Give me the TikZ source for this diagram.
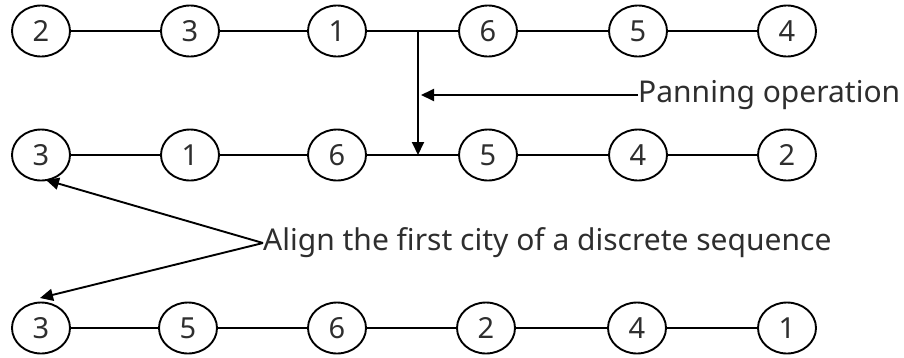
\documentclass[tikz,border=0pt]{standalone}
\usepackage{fontspec}
\setmainfont{Noto Sans}
\usetikzlibrary{shapes.geometric,arrows.meta}
\begin{document}
\begin{tikzpicture}[x=1pt,y=-1pt,
  city/.style={ellipse,draw,line width=1.9pt,minimum width=58pt,minimum height=51pt,inner sep=0pt,font=\fontsize{29}{29}\selectfont,text=black!82},
  link/.style={line width=1.9pt},
  arr/.style={line width=1.9pt,-{Triangle[length=13pt,width=12pt]}},
  lbl/.style={anchor=west,inner sep=0pt,font=\fontsize{30}{30}\selectfont,text=black!82}]
\useasboundingbox (0,0) rectangle (904,357);
% row 1
\node[city] (a1) at (41,31) {2};
\node[city] (a2) at (190,31) {3};
\node[city] (a3) at (337,31) {1};
\node[city] (a4) at (488,31) {6};
\node[city] (a5) at (638,31) {5};
\node[city] (a6) at (787,31) {4};
% row 2
\node[city] (b1) at (41,155) {3};
\node[city] (b2) at (190,155) {1};
\node[city] (b3) at (337,155) {6};
\node[city] (b4) at (488,155) {5};
\node[city] (b5) at (638,155) {4};
\node[city] (b6) at (787,155) {2};
% row 3
\node[city] (c1) at (41,328) {3};
\node[city] (c2) at (188,328) {5};
\node[city] (c3) at (337,328) {6};
\node[city] (c4) at (486,328) {2};
\node[city] (c5) at (637,328) {4};
\node[city] (c6) at (787,328) {1};
\foreach \r in {a,b,c}{
  \draw[link] (\r1) -- (\r2);
  \draw[link] (\r2) -- (\r3);
  \draw[link] (\r3) -- (\r4);
  \draw[link] (\r4) -- (\r5);
  \draw[link] (\r5) -- (\r6);
}
% panning
\coordinate (p1) at (418,31);
\coordinate (p2) at (418,155);
\coordinate (pt) at (421,95);
\draw[arr] (p1) -- (p2);
\node[lbl] (pan) at (638,95) {Panning operation};
\draw[arr] (pan.west) -- (pt);
% align
\node[lbl] (al) at (263,243) {Align the first city of a discrete sequence};
\coordinate (t1) at (46,180);
\coordinate (t2) at (40,298);
\draw[arr] (al.west) -- (t1);
\draw[arr] (al.west) -- (t2);
\end{tikzpicture}
\end{document}
